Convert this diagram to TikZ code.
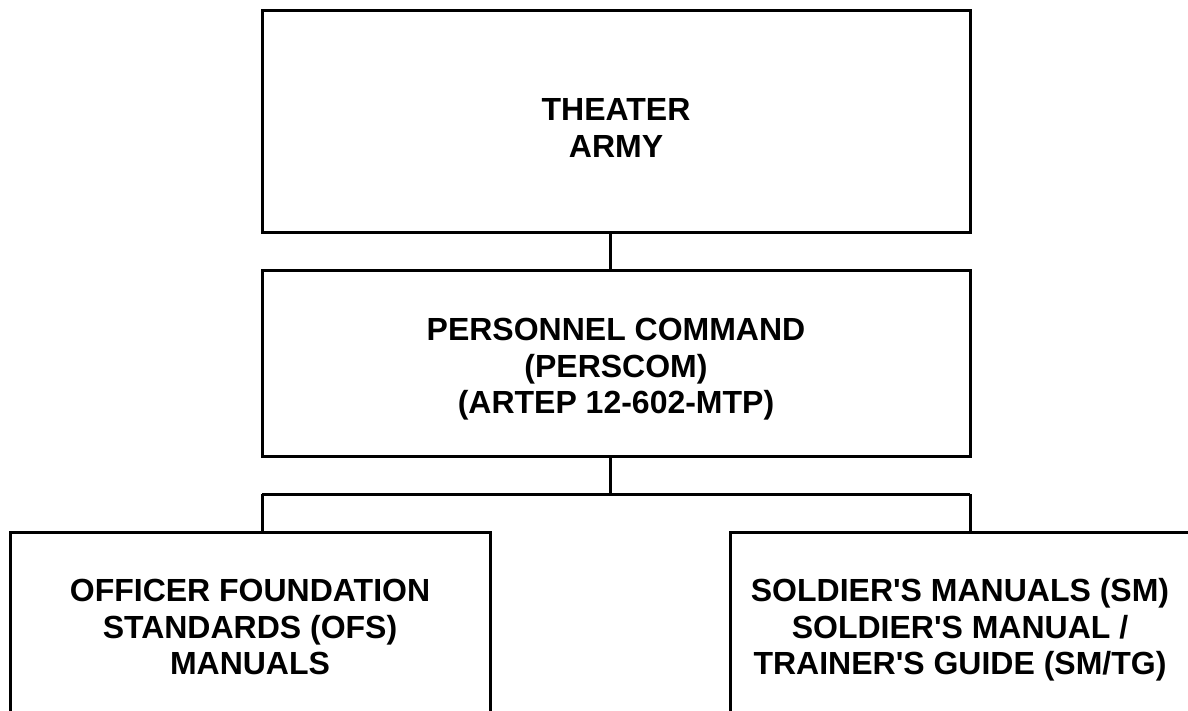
\documentclass[tikz,border=0pt]{standalone}
\usepackage{fontspec}
\setmainfont{Liberation Sans}
\begin{document}
\begin{tikzpicture}[x=1pt,y=1pt,
  box/.style={draw=black, line width=3pt, inner sep=0pt},
  label text/.style={inner sep=0pt, align=center,
    font=\fontsize{32}{36.5}\selectfont\bfseries},
  wire/.style={draw=black, line width=3pt}]
\useasboundingbox (0,0) rectangle (1188,-711);
\clip (0,0) rectangle (1188,-711);
\node[box, minimum width=708, minimum height=222] (theater) at (616,-122) {};
\node[box, minimum width=708, minimum height=185] (perscom) at (616,-363.5) {};
\node[box, minimum width=480, minimum height=190] (ofs) at (250,-627) {};
\node[box, minimum width=460, minimum height=190] (sm) at (960,-627) {};
\node[label text, yshift=-6pt] (theaterText) at (theater.center) {THEATER\\ARMY};
\node[label text, yshift=-6pt] (perscomText) at (perscom.center) {PERSONNEL COMMAND\\(PERSCOM)\\(ARTEP 12-602-MTP)};
\node[label text] (ofsText) at (ofs.center) {OFFICER FOUNDATION\\STANDARDS (OFS)\\MANUALS};
\node[label text, yshift=-3pt] (smText) at (sm.center) {SOLDIER\textquotesingle S MANUALS (SM)\\SOLDIER\textquotesingle S MANUAL /\\TRAINER\textquotesingle S GUIDE (SM/TG)};
\coordinate (busL) at (262,-494);
\coordinate (busR) at (970,-494);
\draw[wire] ([xshift=-6pt]theater.south) -- ([xshift=-6pt]perscom.north);
\draw[wire] ([xshift=-6pt]perscom.south) -- ([xshift=-6pt]perscom.south |- busL);
\draw[wire] (busL) -- (busR);
\draw[wire] (busL) -- (busL |- ofs.north);
\draw[wire] (busR) -- (busR |- sm.north);
\end{tikzpicture}
\end{document}
